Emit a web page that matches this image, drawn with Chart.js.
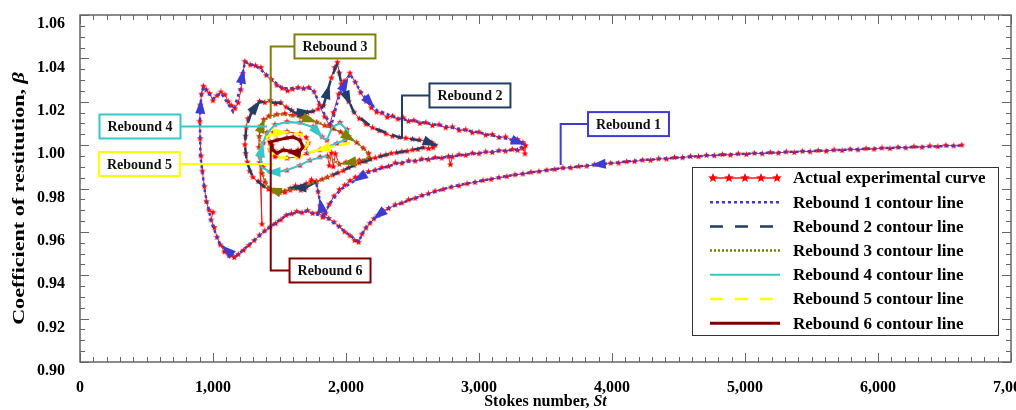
<!DOCTYPE html>
<html>
<head>
<meta charset="utf-8">
<script src="https://cdn.jsdelivr.net/npm/chart.js@4.4.0/dist/chart.umd.min.js"></script>
<style>
  html, body { margin: 0; padding: 0; background: #fff; }
  #wrap { width: 1016px; height: 410px; }
</style>
</head>
<body>
<div id="wrap"><canvas id="chart" width="1016" height="410"></canvas></div>
<script>
// Valores: [St, beta]
const xMajorTicks = [0, 1000, 2000, 3000, 4000, 5000, 6000, 7000];
const yMajorTicks = [0.90, 0.92, 0.94, 0.96, 0.98, 1.00, 1.02, 1.04, 1.06];

const seriesLabels = [
  'Actual experimental curve',
  'Rebound 1 contour line',
  'Rebound 2 contour line',
  'Rebound 3 contour line',
  'Rebound 4 contour line',
  'Rebound 5 contour line',
  'Rebound 6 contour line'
];

const expCurve = [
  // cauda (direita para esquerda)
  [6630,1.0000],[6570,0.9996],[6510,0.9999],[6450,0.9993],[6390,0.9996],[6330,0.9990],[6270,0.9993],
  [6210,0.9987],[6150,0.9990],[6090,0.9984],[6030,0.9987],[5970,0.9981],[5910,0.9984],[5850,0.9978],
  [5790,0.9981],[5730,0.9975],[5670,0.9978],[5610,0.9972],[5550,0.9975],[5490,0.9969],[5430,0.9972],
  [5370,0.9966],[5310,0.9969],[5250,0.9963],[5190,0.9966],[5130,0.9960],[5070,0.9963],[5010,0.9957],
  [4950,0.9960],[4890,0.9954],[4830,0.9957],[4770,0.9951],[4710,0.9953],[4650,0.9947],[4590,0.9948],
  [4530,0.9942],[4470,0.9943],[4410,0.9936],[4350,0.9937],[4290,0.9930],[4230,0.9931],[4170,0.9924],
  [4110,0.9924],[4050,0.9917],[3990,0.9917],[3930,0.9910],[3870,0.9910],[3810,0.9903],[3750,0.9902],
  [3690,0.9895],[3630,0.9895],[3570,0.9888],
  // rebote 1
  [3510,0.9885],[3450,0.9878],[3390,0.9875],[3330,0.9867],[3270,0.9863],[3210,0.9855],[3150,0.9850],
  [3090,0.9842],[3030,0.9837],[2970,0.9828],[2910,0.9822],[2850,0.9812],[2790,0.9806],[2730,0.9796],
  [2670,0.9788],[2620,0.9776],[2570,0.9768],[2520,0.9755],[2470,0.9748],[2420,0.9733],[2370,0.9725],
  [2320,0.9708],[2280,0.9696],[2240,0.9676],[2210,0.9660],[2180,0.9640],[2150,0.9618],[2120,0.9590],
  [2095,0.9552],[2065,0.9560],[2030,0.9582],[1990,0.9600],[1950,0.9625],[1910,0.9645],[1870,0.9662],
  [1830,0.9670],[1790,0.9688],[1750,0.9685],[1710,0.9698],[1670,0.9688],[1630,0.9694],[1590,0.9683],
  [1550,0.9676],[1510,0.9655],[1470,0.9638],[1430,0.9622],[1390,0.9605],[1350,0.9585],[1310,0.9560],
  [1270,0.9538],[1230,0.9515],[1190,0.9496],[1160,0.9482],[1120,0.9490],[1085,0.9508],[1055,0.9540],
  [1030,0.9575],[1010,0.9620],[985,0.9655],[1000,0.9690],[970,0.9700],[950,0.9740],[935,0.9810],
  [920,0.9880],[910,0.9950],[903,1.0030],[900,1.0110],[904,1.0185],[914,1.0235],[928,1.0272],
  [950,1.0255],[975,1.0238],[1000,1.0205],[1030,1.0228],[1060,1.0245],[1090,1.0232],[1115,1.0200],
  [1140,1.0182],[1165,1.0168],[1190,1.0195],[1210,1.0255],[1225,1.0330],[1240,1.0386],[1280,1.0370],
  [1320,1.0366],[1360,1.0358],[1400,1.0322],[1440,1.0302],[1480,1.0276],[1520,1.0262],[1560,1.0250],
  [1600,1.0258],[1640,1.0266],[1680,1.0260],[1720,1.0266],[1760,1.0246],[1800,1.0185],[1840,1.0130],
  [1875,1.0092],[1905,1.0150],[1945,1.0235],[1985,1.0295],[2030,1.0332],[2070,1.0290],[2110,1.0242],
  [2150,1.0202],[2190,1.0172],[2230,1.0152],[2270,1.0148],[2310,1.0128],[2350,1.0134],[2390,1.0120],
  [2430,1.0126],[2470,1.0110],[2510,1.0114],[2555,1.0100],[2600,1.0104],[2650,1.0090],[2700,1.0094],
  [2750,1.0080],[2800,1.0084],[2850,1.0068],[2900,1.0071],[2950,1.0057],[3000,1.0060],[3050,1.0046],
  [3100,1.0049],[3150,1.0035],[3200,1.0038],[3250,1.0022],[3290,1.0026],[3330,1.0012],[3350,0.9998],
  [3345,0.9960],[3330,0.9985],[3290,0.9976],[3250,0.9980],[3200,0.9972],[3150,0.9975],[3100,0.9966],
  [3050,0.9969],[3000,0.9960],[2950,0.9963],[2900,0.9953],[2850,0.9956],[2800,0.9946],[2785,0.9910],
  [2770,0.9948],[2720,0.9940],[2670,0.9943],[2620,0.9933],[2570,0.9936],[2520,0.9926],[2470,0.9928],
  [2420,0.9916],[2370,0.9918],[2320,0.9902],[2270,0.9897],[2220,0.9885],[2170,0.9878],[2120,0.9866],
  [2070,0.9852],[2030,0.9836],[1990,0.9815],[1950,0.9795],[1910,0.9765],[1875,0.9728],[1845,0.9685],
  [1825,0.9668],[1805,0.9720],[1790,0.9785],[1775,0.9830],
  // rebote 2
  [1740,0.9832],[1700,0.9805],[1660,0.9792],[1620,0.9812],[1580,0.9800],[1540,0.9782],[1500,0.9786],
  [1460,0.9790],[1420,0.9796],[1380,0.9812],[1340,0.9832],[1300,0.9852],[1275,0.9880],[1258,0.9922],
  [1246,0.9962],[1240,1.0002],[1244,1.0042],[1250,1.0082],[1262,1.0122],[1290,1.0152],[1320,1.0180],
  [1350,1.0202],[1390,1.0196],[1430,1.0206],[1470,1.0190],[1510,1.0196],[1550,1.0175],[1590,1.0160],
  [1630,1.0146],[1670,1.0140],[1710,1.0150],[1750,1.0156],[1790,1.0166],[1830,1.0182],[1860,1.0242],
  [1890,1.0310],[1915,1.0358],[1935,1.0382],[1950,1.0332],[1965,1.0282],[1990,1.0240],[2020,1.0200],
  [2060,1.0152],[2100,1.0122],[2150,1.0096],[2200,1.0080],[2250,1.0066],[2300,1.0052],[2350,1.0041],
  [2400,1.0036],[2450,1.0032],[2500,1.0028],[2550,1.0024],[2600,1.0018],[2645,1.0012],[2670,1.0000],
  [2655,0.9988],[2620,0.9984],[2580,0.9988],[2540,0.9980],[2500,0.9978],[2460,0.9972],[2420,0.9970],
  [2380,0.9965],[2340,0.9962],[2300,0.9955],[2260,0.9950],[2220,0.9941],[2180,0.9935],[2140,0.9926],
  [2100,0.9918],[2060,0.9906],[2020,0.9896],[1980,0.9882],[1940,0.9872],[1900,0.9862],
  // rebote 3
  [1860,0.9852],[1820,0.9842],[1780,0.9832],[1740,0.9840],[1700,0.9822],[1660,0.9810],[1620,0.9800],
  [1580,0.9792],[1540,0.9788],[1500,0.9782],[1460,0.9786],[1420,0.9800],[1390,0.9830],[1368,0.9870],
  [1352,0.9920],[1368,0.9635],[1356,0.9960],[1345,0.9990],[1348,1.0040],[1358,1.0088],[1382,1.0118],
  [1420,1.0134],[1480,1.0142],[1540,1.0146],[1600,1.0138],[1660,1.0130],[1720,1.0121],[1780,1.0106],
  [1840,1.0090],[1900,1.0076],[1960,1.0060],[2020,1.0040],[2080,1.0012],[2130,0.9986],[2170,0.9962],
  [2180,0.9938],[2150,0.9926],[2100,0.9930],[2050,0.9922],[2000,0.9921],[1950,0.9912],[1920,0.9960],
  [1905,0.9900],[1890,0.9965],[1875,0.9905],[1860,0.9950],
  // rebote 4
  [1805,0.9945],[1729,0.9930],[1654,0.9906],[1556,0.9884],[1481,0.9874],[1429,0.9878],[1376,0.9898],
  [1353,0.9945],[1378,1.0010],[1406,1.0058],[1466,1.0094],[1556,1.0108],[1654,1.0104],[1752,1.0084],
  [1820,1.0038],[1857,1.0022],[1895,1.0084],[1955,1.0104],[2008,1.0072],[2015,1.0036],[1993,1.0022],
  [1932,1.0008],[1805,0.9978],[1707,0.9962],
  // rebote 5
  [1640,0.9946],[1556,0.9940],[1466,0.9946],[1430,0.9978],[1408,1.0036],[1452,1.0058],[1556,1.0062],
  [1654,1.0052],[1700,1.0036],[1716,1.0010],[1695,0.9988],[1640,0.9978],
  // rebote 6
  [1590,0.9972],[1530,0.9978],[1482,0.9964],[1452,0.9977],[1444,1.0000],[1430,1.0014],[1481,1.0024],
  [1556,1.0034],[1602,1.0038],[1654,1.0024],[1677,0.9992],[1639,0.9964],[1579,0.9969]
];

const rebound1 = [
  [6620,0.9998],[6000,0.9985],[5400,0.9970],[4800,0.9955],[4200,0.9930],[3600,0.9892],[3200,0.9857],
  [2800,0.9810],[2500,0.9752],[2300,0.9705],[2200,0.9655],[2140,0.9612],[2095,0.9555],[2000,0.9598],
  [1850,0.9668],[1700,0.9695],[1560,0.9680],[1420,0.9620],[1300,0.9556],[1165,0.9484],[1050,0.9545],
  [990,0.9640],[940,0.9780],[905,0.9950],[902,1.0120],[912,1.0235],[928,1.0268],[1000,1.0215],
  [1060,1.0240],[1150,1.0155],[1200,1.0250],[1240,1.0384],[1330,1.0362],[1430,1.0310],[1520,1.0262],
  [1640,1.0262],[1750,1.0260],[1840,1.0140],[1890,1.0092],[1950,1.0230],[2030,1.0328],[2120,1.0238],
  [2233,1.0160],[2400,1.0122],[2700,1.0092],[3000,1.0058],[3250,1.0024],[3340,1.0005],[3300,0.9980],
  [3060,0.9968],[2800,0.9948],[2600,0.9935],[2400,0.9918],[2160,0.9872],[2050,0.9830],[1960,0.9795],
  [1880,0.9732],[1830,0.9672],[1795,0.9770],[1775,0.9830]
];
const rebound2 = [
  [1775,0.9830],[1700,0.9805],[1600,0.9805],[1500,0.9784],[1400,0.9800],[1300,0.9852],[1255,0.9920],
  [1240,1.0000],[1250,1.0082],[1290,1.0152],[1350,1.0200],[1500,1.0195],[1620,1.0148],[1750,1.0155],
  [1830,1.0180],[1890,1.0310],[1935,1.0375],[1965,1.0282],[2060,1.0150],[2200,1.0080],[2400,1.0036],
  [2600,1.0018],[2665,1.0002],[2500,0.9978],[2300,0.9955],[2100,0.9918],[1900,0.9862]
];
const rebound3 = [
  [1900,0.9862],[1780,0.9832],[1640,0.9805],[1500,0.9783],[1420,0.9800],[1370,0.9870],[1348,0.9960],
  [1352,1.0060],[1385,1.0118],[1500,1.0142],[1650,1.0132],[1800,1.0102],[1960,1.0060],[2080,1.0012],
  [2150,0.9975],[2175,0.9940],[2100,0.9928],[1950,0.9912],[1860,0.9950]
];
const rebound4 = [
  [1860,0.9950],[1729,0.9931],[1654,0.9908],[1556,0.9885],[1481,0.9876],[1429,0.9876],[1365,0.9899],
  [1353,0.9945],[1376,1.0010],[1406,1.0056],[1466,1.0093],[1556,1.0106],[1654,1.0102],[1752,1.0083],
  [1820,1.0037],[1857,1.0023],[1895,1.0083],[1955,1.0102],[2008,1.0070],[2015,1.0037],[1993,1.0023],
  [1932,1.0010],[1805,0.9977],[1707,0.9963]
];
const rebound5 = [
  [2030,1.0010],[1880,0.9991],[1780,0.9975],[1707,0.9963],[1654,0.9945],[1556,0.9941],[1466,0.9945],
  [1429,0.9977],[1406,1.0037],[1451,1.0056],[1556,1.0060],[1654,1.0050],[1700,1.0037],[1716,1.0010],
  [1695,0.9988],[1640,0.9978]
];
const rebound6 = [
  [1590,0.9972],[1526,0.9977],[1481,0.9963],[1451,0.9977],[1444,1.0000],[1429,1.0014],[1481,1.0023],
  [1556,1.0033],[1602,1.0037],[1654,1.0023],[1677,0.9991],[1639,0.9963],[1579,0.9969]
];

// Chamadas "Rebound n": caixa e ponto de ligação (St, beta)
const calloutText = ['Rebound 1', 'Rebound 2', 'Rebound 3', 'Rebound 4', 'Rebound 5', 'Rebound 6'];
const calloutBox = [[4124,1.0097],[2932,1.0229],[1917,1.0455],[451,1.0086],[447,0.9913],[1880,0.9422]];
const calloutPoint = [[3614,0.9908],[2421,1.0033],[1434,1.0130],[1406,1.0086],[1451,0.9913],[1434,1.0000]];

// ---- estilos ----
const SERIF = '"Liberation Serif", "Times New Roman", serif';
const colors = ['#ff1a1a', '#3c3cd2', '#1f3f66', '#808000', '#36c8c8', '#ffff00', '#800000'];
const dashes = [[], [3, 3], [11, 7], [2, 2], [], [10, 6], []];
const widths = [1, 2.5, 2.5, 2.5, 2, 2.5, 3];
// índices do segmento onde desenhar a seta de direção
const arrowAt = {1: [4, 9, 19, 24, 30, 39, 41, 46, 53, 57], 2: [1, 9, 12, 14, 17, 21], 3: [3, 7, 10, 12, 16], 4: [4, 7, 13], 5: [1, 9], 6: [11]};

function makeStar(size, color) {
  const c = document.createElement('canvas');
  c.width = c.height = size;
  const g = c.getContext('2d');
  g.fillStyle = color;
  g.beginPath();
  for (let k = 0; k < 10; k++) {
    const r = k % 2 ? size * 0.22 : size * 0.5;
    const a = -Math.PI / 2 + k * Math.PI / 5;
    g.lineTo(size / 2 + r * Math.cos(a), size / 2 + r * Math.sin(a));
  }
  g.closePath();
  g.fill();
  return c;
}
const starSmall = makeStar(7, '#ff0000');
const starLegend = makeStar(10, '#ff0000');

function pts(arr) { return arr.map(p => ({x: p[0], y: p[1]})); }

const allSeries = [expCurve, rebound1, rebound2, rebound3, rebound4, rebound5, rebound6];

const datasets = allSeries.map((s, i) => ({
  label: seriesLabels[i],
  data: pts(s),
  showLine: true,
  borderColor: colors[i],
  backgroundColor: colors[i],
  borderWidth: widths[i],
  borderDash: dashes[i],
  pointStyle: i === 0 ? starSmall : 'circle',
  pointRadius: i === 0 ? 3 : 0,
  pointHoverRadius: 0,
  tension: 0,
  order: i === 0 ? 10 : 7 - i
}));

function drawArrows(chart) {
  const {ctx, scales: {x, y}} = chart;
  ctx.save();
  chart.data.datasets.forEach((ds, di) => {
    (arrowAt[di] || []).forEach(i => {
      const a = ds.data[i], b = ds.data[i + 1];
      if (!a || !b) return;
      const x1 = x.getPixelForValue(a.x), y1 = y.getPixelForValue(a.y);
      const x2 = x.getPixelForValue(b.x), y2 = y.getPixelForValue(b.y);
      const ang = Math.atan2(y2 - y1, x2 - x1);
      ctx.save();
      ctx.translate((x1 + x2) / 2, (y1 + y2) / 2);
      ctx.rotate(ang);
      ctx.beginPath();
      ctx.moveTo(8, 0);
      ctx.lineTo(-7, -5);
      ctx.lineTo(-7, 5);
      ctx.closePath();
      ctx.fillStyle = ds.borderColor;
      ctx.fill();
      ctx.restore();
    });
  });
  ctx.restore();
}

function drawFrame(chart) {
  const {ctx, chartArea: a, scales: {x, y}} = chart;
  ctx.save();
  ctx.strokeStyle = '#666';
  ctx.lineWidth = 1;
  ctx.beginPath();
  for (let i = 0; i <= 70; i++) {
    const px = Math.round(x.getPixelForValue(i * 100)) + 0.5;
    const len = i % 10 === 0 ? 9 : 5;
    ctx.moveTo(px, a.bottom); ctx.lineTo(px, a.bottom - len);
    ctx.moveTo(px, a.top); ctx.lineTo(px, a.top + len);
  }
  for (let j = 0; j <= 32; j++) {
    const py = Math.round(y.getPixelForValue(0.90 + j * 0.005)) + 0.5;
    const len = j % 4 === 0 ? 9 : 5;
    ctx.moveTo(a.left, py); ctx.lineTo(a.left + len, py);
    ctx.moveTo(a.right, py); ctx.lineTo(a.right - len, py);
  }
  ctx.stroke();
  ctx.lineWidth = 1.5;
  ctx.strokeRect(a.left, a.top, a.right - a.left, a.bottom - a.top);
  ctx.restore();
}

function richText(ctx, parts, x, y, size) {
  let total = 0;
  parts.forEach(p => {
    ctx.font = (p[1] ? 'italic ' : '') + 'bold ' + size + 'px ' + SERIF;
    total += ctx.measureText(p[0]).width;
  });
  let cx = x - total / 2;
  parts.forEach(p => {
    ctx.font = (p[1] ? 'italic ' : '') + 'bold ' + size + 'px ' + SERIF;
    ctx.fillText(p[0], cx, y);
    cx += ctx.measureText(p[0]).width;
  });
}

function drawTitles(chart) {
  const {ctx, chartArea: a} = chart;
  ctx.save();
  ctx.fillStyle = '#000';
  ctx.textAlign = 'left';
  ctx.textBaseline = 'middle';
  richText(ctx, [['Stokes number, ', false], ['St', true]], (a.left + a.right) / 2, 402, 16);
  ctx.translate(20, (a.top + a.bottom) / 2 + 10);
  ctx.rotate(-Math.PI / 2);
  ctx.scale(1.3, 1);
  richText(ctx, [['Coefficient of restitution, ', false], ['\u03b2', true]], 0, 0, 17);
  ctx.restore();
}

function drawCallouts(chart) {
  const {ctx, scales: {x, y}} = chart;
  ctx.save();
  ctx.font = 'bold 14px ' + SERIF;
  ctx.textAlign = 'center';
  ctx.textBaseline = 'middle';
  calloutText.forEach((t, i) => {
    const col = colors[i + 1];
    const bx = x.getPixelForValue(calloutBox[i][0]), by = y.getPixelForValue(calloutBox[i][1]);
    const ax = x.getPixelForValue(calloutPoint[i][0]), ay = y.getPixelForValue(calloutPoint[i][1]);
    const w = ctx.measureText(t).width + 16, h = 24;
    const edge = ax < bx ? bx - w / 2 : bx + w / 2;
    ctx.strokeStyle = col;
    ctx.lineWidth = 2;
    ctx.setLineDash([]);
    ctx.beginPath();
    if (Math.abs(ay - by) < 1.5) {
      ctx.moveTo(edge, by); ctx.lineTo(ax, by);
    } else {
      ctx.moveTo(ax, ay); ctx.lineTo(ax, by); ctx.lineTo(edge, by);
    }
    ctx.stroke();
    ctx.fillStyle = '#fff';
    ctx.fillRect(bx - w / 2, by - h / 2, w, h);
    ctx.strokeRect(bx - w / 2, by - h / 2, w, h);
    ctx.fillStyle = '#111';
    ctx.fillText(t, bx, by + 1);
  });
  ctx.restore();
}

function drawLegend(chart) {
  const {ctx, chartArea: a} = chart;
  const lx = a.right - 319, ly = a.top + 152, lw = 306, lh = 168;
  ctx.save();
  ctx.fillStyle = '#fff';
  ctx.fillRect(lx, ly, lw, lh);
  ctx.strokeStyle = '#333';
  ctx.lineWidth = 1;
  ctx.strokeRect(lx + 0.5, ly + 0.5, lw, lh);
  ctx.font = 'bold 17px ' + SERIF;
  ctx.textBaseline = 'middle';
  ctx.textAlign = 'left';
  chart.data.datasets.forEach((ds, i) => {
    const ry = ly + 11 + i * 24.2;
    const x0 = lx + 18, x1 = lx + 88;
    ctx.strokeStyle = ds.borderColor;
    ctx.lineWidth = i === 0 ? 1.5 : ds.borderWidth;
    ctx.setLineDash(i === 2 || i === 5 ? [13, 12] : ds.borderDash);
    ctx.beginPath();
    ctx.moveTo(x0, ry); ctx.lineTo(x1, ry);
    ctx.stroke();
    ctx.setLineDash([]);
    if (i === 0) {
      for (let k = 0; k < 5; k++) {
        const sx = x0 + 3 + k * 16;
        ctx.drawImage(starLegend, sx - 5, ry - 5);
      }
    }
    ctx.fillStyle = '#000';
    ctx.fillText(ds.label, lx + 101, ry + 1);
  });
  ctx.restore();
}

const decor = {
  id: 'decor',
  afterDatasetsDraw(chart) {
    drawArrows(chart);
  },
  afterDraw(chart) {
    drawFrame(chart);
    drawCallouts(chart);
    drawLegend(chart);
    drawTitles(chart);
  }
};

new Chart(document.getElementById('chart'), {
  type: 'scatter',
  data: { datasets: datasets },
  plugins: [decor],
  options: {
    responsive: false,
    animation: false,
    devicePixelRatio: 1,
    layout: { padding: { top: 15, right: 5, left: 0, bottom: 0 } },
    plugins: { legend: { display: false }, tooltip: { enabled: false } },
    scales: {
      x: {
        type: 'linear', min: 0, max: 7000,
        grid: { display: false, drawTicks: false },
        border: { display: false },
        ticks: {
          autoSkip: false, maxRotation: 0, padding: 16, color: '#000',
          font: { family: SERIF, weight: 'bold', size: 16 },
          callback: v => v.toLocaleString('en-US')
        },
        afterBuildTicks: s => { s.ticks = xMajorTicks.map(v => ({value: v})); },
        afterFit: s => { s.height = 48; s.paddingLeft = 0; s.paddingRight = 0; }
      },
      y: {
        type: 'linear', min: 0.90, max: 1.06,
        grid: { display: false, drawTicks: false },
        border: { display: false },
        ticks: {
          autoSkip: false, padding: 15, labelOffset: 9, color: '#000',
          font: { family: SERIF, weight: 'bold', size: 16 },
          callback: v => v.toFixed(2)
        },
        afterBuildTicks: s => { s.ticks = yMajorTicks.map(v => ({value: v})); },
        afterFit: s => { s.width = 80; s.paddingTop = 0; s.paddingBottom = 0; }
      }
    }
  }
});
</script>
</body>
</html>
